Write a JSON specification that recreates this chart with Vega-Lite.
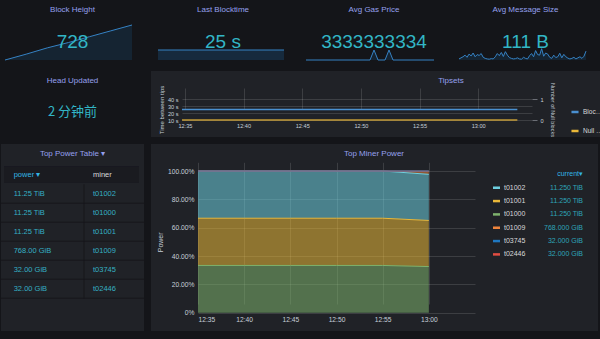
{
  "$schema": "https://vega.github.io/schema/vega-lite/v6.json",
  "background": "#141519",
  "padding": {"left": 0, "top": 0, "right": 0, "bottom": 8},
  "spacing": 7,
  "resolve": {"scale": {"color": "independent"}, "legend": {"color": "independent"}},
  "config": {
    "font": "Liberation Sans",
    "view": {"fill": "#202227", "stroke": null},
    "title": {"fontSize": 8, "fontWeight": "normal", "color": "#95a0ee", "anchor": "middle", "frame": "group", "font": "Liberation Sans"},
    "axis": {"labelColor": "#c7d0d9", "labelFontSize": 6.7, "domain": false, "ticks": false, "gridColor": "#ffffff", "gridOpacity": 0.13, "titleColor": "#c7d0d9", "titleFontWeight": "normal", "titleFontSize": 7, "labelFont": "Liberation Sans", "titleFont": "Liberation Sans"}
  },
  "datasets": {
    "blockHeight": [
      {"t": 0, "h": 656}, {"t": 1, "h": 668}, {"t": 2, "h": 681}, {"t": 3, "h": 692},
      {"t": 4, "h": 704}, {"t": 5, "h": 716}, {"t": 6, "h": 728}
    ],
    "blockTime": [
      {"t": 0, "s": 25}, {"t": 1, "s": 25}, {"t": 2, "s": 25}, {"t": 3, "s": 25},
      {"t": 4, "s": 25}, {"t": 5, "s": 25}, {"t": 6, "s": 25}
    ],
    "gasPrice": [
      {"t": 0, "p": 3333333333}, {"t": 32, "p": 3333333333}, {"t": 34, "p": 3333333343},
      {"t": 36, "p": 3333333333}, {"t": 39.5, "p": 3333333333}, {"t": 41.5, "p": 3333333343},
      {"t": 43.5, "p": 3333333333}, {"t": 64, "p": 3333333333}
    ],
    "msgSize": [
      {"t": 0, "b": 104}, {"t": 1, "b": 108}, {"t": 2, "b": 112}, {"t": 3, "b": 118}, {"t": 4, "b": 110},
      {"t": 5, "b": 122}, {"t": 6, "b": 115}, {"t": 7, "b": 126}, {"t": 8, "b": 112}, {"t": 9, "b": 120},
      {"t": 10, "b": 117}, {"t": 11, "b": 124}, {"t": 12, "b": 110}, {"t": 13, "b": 106}, {"t": 14, "b": 104},
      {"t": 15, "b": 103}, {"t": 16, "b": 105}, {"t": 17, "b": 104}, {"t": 18, "b": 112}, {"t": 19, "b": 124},
      {"t": 20, "b": 116}, {"t": 21, "b": 128}, {"t": 22, "b": 113}, {"t": 23, "b": 131}, {"t": 24, "b": 118},
      {"t": 25, "b": 109}, {"t": 26, "b": 106}, {"t": 27, "b": 104}, {"t": 28, "b": 105}, {"t": 29, "b": 108},
      {"t": 30, "b": 104}, {"t": 31, "b": 103}, {"t": 32, "b": 110}, {"t": 33, "b": 106}, {"t": 34, "b": 104},
      {"t": 35, "b": 116}, {"t": 36, "b": 124}, {"t": 37, "b": 112}, {"t": 38, "b": 135}, {"t": 39, "b": 120},
      {"t": 40, "b": 118}, {"t": 41, "b": 142}, {"t": 42, "b": 114}, {"t": 43, "b": 126}, {"t": 44, "b": 122},
      {"t": 45, "b": 110}, {"t": 46, "b": 106}, {"t": 47, "b": 118}, {"t": 48, "b": 109}, {"t": 49, "b": 112},
      {"t": 50, "b": 125}, {"t": 51, "b": 108}, {"t": 52, "b": 121}, {"t": 53, "b": 112}, {"t": 54, "b": 107},
      {"t": 55, "b": 104}, {"t": 56, "b": 106}, {"t": 57, "b": 110}, {"t": 58, "b": 104}, {"t": 59, "b": 108},
      {"t": 60, "b": 112}, {"t": 61, "b": 106}, {"t": 62, "b": 114}, {"t": 63, "b": 133}
    ],
    "tipsets": [
      {"time": "2020-06-01T12:34:45", "series": "Block Time", "value": 25},
      {"time": "2020-06-01T12:40:00", "series": "Block Time", "value": 25},
      {"time": "2020-06-01T12:45:00", "series": "Block Time", "value": 25},
      {"time": "2020-06-01T12:50:00", "series": "Block Time", "value": 25},
      {"time": "2020-06-01T12:55:00", "series": "Block Time", "value": 25},
      {"time": "2020-06-01T13:00:00", "series": "Block Time", "value": 25},
      {"time": "2020-06-01T13:03:20", "series": "Block Time", "value": 25},
      {"time": "2020-06-01T12:34:45", "series": "Null Blocks", "value": 0},
      {"time": "2020-06-01T12:40:00", "series": "Null Blocks", "value": 0},
      {"time": "2020-06-01T12:45:00", "series": "Null Blocks", "value": 0},
      {"time": "2020-06-01T12:50:00", "series": "Null Blocks", "value": 0},
      {"time": "2020-06-01T12:55:00", "series": "Null Blocks", "value": 0},
      {"time": "2020-06-01T13:00:00", "series": "Null Blocks", "value": 0},
      {"time": "2020-06-01T13:03:20", "series": "Null Blocks", "value": 0}
    ],
    "minerPower": [
      {"time": "2020-06-01T12:35:00", "miner": "t01000", "power": 11.25},
      {"time": "2020-06-01T12:40:00", "miner": "t01000", "power": 11.25},
      {"time": "2020-06-01T12:45:00", "miner": "t01000", "power": 11.25},
      {"time": "2020-06-01T12:50:00", "miner": "t01000", "power": 11.25},
      {"time": "2020-06-01T12:55:00", "miner": "t01000", "power": 11.25},
      {"time": "2020-06-01T13:00:00", "miner": "t01000", "power": 11.25},
      {"time": "2020-06-01T12:35:00", "miner": "t01001", "power": 11.25},
      {"time": "2020-06-01T12:40:00", "miner": "t01001", "power": 11.25},
      {"time": "2020-06-01T12:45:00", "miner": "t01001", "power": 11.25},
      {"time": "2020-06-01T12:50:00", "miner": "t01001", "power": 11.25},
      {"time": "2020-06-01T12:55:00", "miner": "t01001", "power": 11.25},
      {"time": "2020-06-01T13:00:00", "miner": "t01001", "power": 11.25},
      {"time": "2020-06-01T12:35:00", "miner": "t01002", "power": 11.25},
      {"time": "2020-06-01T12:40:00", "miner": "t01002", "power": 11.25},
      {"time": "2020-06-01T12:45:00", "miner": "t01002", "power": 11.25},
      {"time": "2020-06-01T12:50:00", "miner": "t01002", "power": 11.25},
      {"time": "2020-06-01T12:55:00", "miner": "t01002", "power": 11.25},
      {"time": "2020-06-01T13:00:00", "miner": "t01002", "power": 11.25},
      {"time": "2020-06-01T12:35:00", "miner": "t01009", "power": 0},
      {"time": "2020-06-01T12:40:00", "miner": "t01009", "power": 0},
      {"time": "2020-06-01T12:45:00", "miner": "t01009", "power": 0},
      {"time": "2020-06-01T12:50:00", "miner": "t01009", "power": 0},
      {"time": "2020-06-01T12:55:00", "miner": "t01009", "power": 0},
      {"time": "2020-06-01T13:00:00", "miner": "t01009", "power": 0.75},
      {"time": "2020-06-01T12:35:00", "miner": "t02446", "power": 0},
      {"time": "2020-06-01T12:40:00", "miner": "t02446", "power": 0},
      {"time": "2020-06-01T12:45:00", "miner": "t02446", "power": 0},
      {"time": "2020-06-01T12:50:00", "miner": "t02446", "power": 0},
      {"time": "2020-06-01T12:55:00", "miner": "t02446", "power": 0},
      {"time": "2020-06-01T13:00:00", "miner": "t02446", "power": 0.03125},
      {"time": "2020-06-01T12:35:00", "miner": "t03745", "power": 0},
      {"time": "2020-06-01T12:40:00", "miner": "t03745", "power": 0},
      {"time": "2020-06-01T12:45:00", "miner": "t03745", "power": 0},
      {"time": "2020-06-01T12:50:00", "miner": "t03745", "power": 0},
      {"time": "2020-06-01T12:55:00", "miner": "t03745", "power": 0},
      {"time": "2020-06-01T13:00:00", "miner": "t03745", "power": 0.03125}
    ],
    "powerTable": [
      {"rank": 1, "power": "11.25 TiB", "miner": "t01002"},
      {"rank": 2, "power": "11.25 TiB", "miner": "t01000"},
      {"rank": 3, "power": "11.25 TiB", "miner": "t01001"},
      {"rank": 4, "power": "768.00 GiB", "miner": "t01009"},
      {"rank": 5, "power": "32.00 GiB", "miner": "t03745"},
      {"rank": 6, "power": "32.00 GiB", "miner": "t02446"}
    ],
    "legendRows": [
      {"rank": 1, "miner": "t01002", "current": "11.250 TiB"},
      {"rank": 2, "miner": "t01001", "current": "11.250 TiB"},
      {"rank": 3, "miner": "t01000", "current": "11.250 TiB"},
      {"rank": 4, "miner": "t01009", "current": "768.000 GiB"},
      {"rank": 5, "miner": "t03745", "current": "32.000 GiB"},
      {"rank": 6, "miner": "t02446", "current": "32.000 GiB"}
    ]
  },
  "vconcat": [
    {
      "spacing": 7,
      "bounds": "flush",
      "resolve": {"scale": {"color": "independent"}, "legend": {"color": "independent"}},
      "hconcat": [
        {
          "width": 143, "height": 64,
          "title": {"text": "Block Height", "offset": -13.5},
          "layer": [
            {
              "data": {"name": "blockHeight"},
              "mark": {"type": "area", "color": "#1f76bd", "fillOpacity": 0.16, "line": {"color": "#3582c4", "strokeWidth": 1}},
              "encoding": {
                "x": {"field": "t", "type": "quantitative", "scale": {"domain": [0, 6], "range": [4, 131], "nice": false, "zero": false}, "axis": null},
                "y": {"field": "h", "type": "quantitative", "scale": {"domain": [656, 728], "range": [60, 25], "nice": false, "zero": false}, "axis": null},
                "y2": {"datum": 656}
              }
            },
            {
              "data": {"values": [{"v": "728"}]},
              "mark": {"type": "text", "fontSize": 19, "color": "#32b6c6", "dy": 10, "baseline": "middle"},
              "encoding": {"text": {"field": "v"}}
            }
          ]
        },
        {
          "width": 144, "height": 64,
          "title": {"text": "Last Blocktime", "offset": -13.5},
          "layer": [
            {
              "data": {"name": "blockTime"},
              "mark": {"type": "area", "color": "#1f76bd", "fillOpacity": 0.22, "line": {"color": "#3582c4", "strokeWidth": 1}},
              "encoding": {
                "x": {"field": "t", "type": "quantitative", "scale": {"domain": [0, 6], "range": [7, 133], "nice": false, "zero": false}, "axis": null},
                "y": {"field": "s", "type": "quantitative", "scale": {"domain": [0, 25], "range": [60, 50], "nice": false, "zero": false}, "axis": null},
                "y2": {"datum": 0}
              }
            },
            {
              "data": {"values": [{"v": "25 s"}]},
              "mark": {"type": "text", "fontSize": 19, "color": "#32b6c6", "dy": 10, "baseline": "middle"},
              "encoding": {"text": {"field": "v"}}
            }
          ]
        },
        {
          "width": 144, "height": 64,
          "title": {"text": "Avg Gas Price", "offset": -13.5},
          "layer": [
            {
              "data": {"name": "gasPrice"},
              "mark": {"type": "area", "color": "#1f76bd", "fillOpacity": 0.16, "line": {"color": "#3582c4", "strokeWidth": 1}},
              "encoding": {
                "x": {"field": "t", "type": "quantitative", "scale": {"domain": [0, 64], "range": [4, 132], "nice": false, "zero": false}, "axis": null},
                "y": {"field": "p", "type": "quantitative", "scale": {"domain": [3333333333, 3333333368], "range": [60, 25], "nice": false, "zero": false}, "axis": null},
                "y2": {"datum": 3333333333}
              }
            },
            {
              "data": {"values": [{"v": "3333333334"}]},
              "mark": {"type": "text", "fontSize": 19, "color": "#32b6c6", "dy": 10, "baseline": "middle"},
              "encoding": {"text": {"field": "v"}}
            }
          ]
        },
        {
          "width": 145, "height": 64,
          "title": {"text": "Avg Message Size", "offset": -13.5},
          "layer": [
            {
              "data": {"name": "msgSize"},
              "mark": {"type": "area", "color": "#1f76bd", "fillOpacity": 0.16, "line": {"color": "#3582c4", "strokeWidth": 1}},
              "encoding": {
                "x": {"field": "t", "type": "quantitative", "scale": {"domain": [0, 63], "range": [6, 133], "nice": false, "zero": false}, "axis": null},
                "y": {"field": "b", "type": "quantitative", "scale": {"domain": [100, 230], "range": [60, 25], "nice": false, "zero": false}, "axis": null},
                "y2": {"datum": 100}
              }
            },
            {
              "data": {"values": [{"v": "111 B"}]},
              "mark": {"type": "text", "fontSize": 19, "color": "#32b6c6", "dy": 10, "baseline": "middle"},
              "encoding": {"text": {"field": "v"}}
            }
          ]
        }
      ]
    },
    {
      "spacing": 7,
      "bounds": "flush",
      "resolve": {"scale": {"color": "independent"}, "legend": {"color": "independent"}},
      "hconcat": [
        {
          "width": 143, "height": 66,
          "title": {"text": "Head Updated", "offset": -14.4},
          "data": {"values": [{"v": "2 分钟前"}]},
          "mark": {"type": "text", "font": "Noto Sans CJK SC", "fontSize": 13, "color": "#32b6c6", "dy": 8, "baseline": "middle"},
          "encoding": {"text": {"field": "v"}}
        },
        {
          "width": 450, "height": 66,
          "title": {"text": "Tipsets", "offset": -14.4, "dx": 75},
          "data": {"name": "tipsets"},
          "encoding": {
            "x": {
              "field": "time", "type": "temporal",
              "scale": {"domain": [{"year": 2020, "month": 6, "date": 1, "hours": 12, "minutes": 34, "seconds": 45}, {"year": 2020, "month": 6, "date": 1, "hours": 13, "minutes": 4, "seconds": 35}], "range": [31, 381]},
              "axis": {
                "values": [
                  {"year": 2020, "month": 6, "date": 1, "hours": 12, "minutes": 35},
                  {"year": 2020, "month": 6, "date": 1, "hours": 12, "minutes": 40},
                  {"year": 2020, "month": 6, "date": 1, "hours": 12, "minutes": 45},
                  {"year": 2020, "month": 6, "date": 1, "hours": 12, "minutes": 50},
                  {"year": 2020, "month": 6, "date": 1, "hours": 12, "minutes": 55},
                  {"year": 2020, "month": 6, "date": 1, "hours": 13, "minutes": 0}
                ],
                "format": "%H:%M", "title": null, "offset": -17, "labelPadding": 3, "labelFontSize": 5.6, "grid": true
              }
            },
            "color": {
              "field": "series", "type": "nominal",
              "scale": {"domain": ["Block Time", "Null Blocks"], "range": ["#4a90d0", "#eab839"]},
              "legend": {"orient": "none", "legendX": 419, "legendY": 36, "title": null, "symbolType": "stroke", "symbolStrokeWidth": 2.5, "symbolSize": 50, "symbolOpacity": 1, "labelFontSize": 6.5, "labelColor": "#d8d9da", "rowPadding": 9, "labelOffset": 3, "labelLimit": 20}
            }
          },
          "layer": [
            {
              "transform": [{"filter": "datum.series === 'Block Time'"}],
              "mark": {"type": "line", "strokeWidth": 1.5},
              "encoding": {
                "y": {
                  "field": "value", "type": "quantitative",
                  "scale": {"domain": [10, 40], "range": [49, 28], "nice": false, "zero": false},
                  "axis": {"orient": "left", "values": [10, 20, 30, 40], "labelExpr": "datum.value + ' s'", "title": "Time between tips", "offset": -31, "labelPadding": 4, "labelFontSize": 5.6, "titleFontSize": 6, "titlePadding": 3, "grid": true}
                }
              }
            },
            {
              "transform": [{"filter": "datum.series === 'Null Blocks'"}],
              "mark": {"type": "line", "strokeWidth": 2, "opacity": 0.6},
              "encoding": {
                "y": {
                  "field": "value", "type": "quantitative",
                  "scale": {"domain": [0, 1], "range": [49, 28], "nice": false, "zero": false},
                  "axis": {"orient": "right", "values": [0, 1], "format": "d", "title": "Number of Null blocks", "offset": -69, "ticks": true, "tickSize": 5, "tickColor": "#6b6e75", "labelPadding": 3, "labelFontSize": 5.6, "titleFontSize": 5.5, "titlePadding": 6, "grid": false}
                }
              }
            }
          ],
          "resolve": {"scale": {"y": "independent"}}
        }
      ]
    },
    {
      "spacing": 7,
      "bounds": "flush",
      "resolve": {"scale": {"color": "independent"}, "legend": {"color": "independent"}},
      "hconcat": [
        {
          "width": 143, "height": 187,
          "title": {"text": "Top Power Table ▾", "offset": -14.4},
          "data": {"name": "powerTable"},
          "layer": [
            {
              "mark": {"type": "rect", "color": "#1a1b20", "xOffset": -9.7, "x2Offset": 46, "yOffset": -8, "y2Offset": 8},
              "encoding": {
                "x": {"datum": "power", "type": "nominal", "scale": {"type": "point", "domain": ["power", "miner"], "range": [12.7, 92], "padding": 0}, "axis": null},
                "x2": {"datum": "miner"},
                "y": {"datum": 0, "type": "ordinal", "scale": {"type": "point", "domain": [0, 1, 2, 3, 4, 5, 6], "range": [30.7, 144.7], "padding": 0}, "axis": null},
                "y2": {"datum": 0}
              }
            },
            {
              "mark": {"type": "rule", "strokeWidth": 1, "color": "#16171b", "yOffset": 9.5},
              "encoding": {"y": {"field": "rank", "type": "ordinal", "scale": {"type": "point", "domain": [0, 1, 2, 3, 4, 5, 6], "range": [30.7, 144.7], "padding": 0}, "axis": null}}
            },
            {
              "mark": {"type": "tick", "orient": "vertical", "size": 19, "thickness": 1, "color": "#16171b", "xOffset": -9, "opacity": 1},
              "encoding": {
                "x": {"datum": "miner", "type": "nominal", "scale": {"type": "point", "domain": ["power", "miner"], "range": [12.7, 92], "padding": 0}, "axis": null},
                "y": {"field": "rank", "type": "ordinal", "scale": {"type": "point", "domain": [0, 1, 2, 3, 4, 5, 6], "range": [30.7, 144.7], "padding": 0}, "axis": null}
              }
            },
            {
              "data": {"values": [{"label": "power ▾"}]},
              "mark": {"type": "text", "align": "left", "baseline": "middle", "fontSize": 7.5, "color": "#33b5e5"},
              "encoding": {
                "x": {"datum": "power", "type": "nominal", "scale": {"type": "point", "domain": ["power", "miner"], "range": [12.7, 92], "padding": 0}, "axis": null},
                "y": {"datum": 0, "type": "ordinal", "scale": {"type": "point", "domain": [0, 1, 2, 3, 4, 5, 6], "range": [30.7, 144.7], "padding": 0}, "axis": null},
                "text": {"field": "label"}
              }
            },
            {
              "data": {"values": [{"label": "miner"}]},
              "mark": {"type": "text", "align": "left", "baseline": "middle", "fontSize": 7.5, "fill": "#d8d9da", "opacity": 1},
              "encoding": {
                "x": {"datum": "miner", "type": "nominal", "scale": {"type": "point", "domain": ["power", "miner"], "range": [12.7, 92], "padding": 0}, "axis": null},
                "y": {"datum": 0, "type": "ordinal", "scale": {"type": "point", "domain": [0, 1, 2, 3, 4, 5, 6], "range": [30.7, 144.7], "padding": 0}, "axis": null},
                "text": {"field": "label"}
              }
            },
            {
              "transform": [{"fold": ["power", "miner"], "as": ["col", "cell"]}],
              "mark": {"type": "text", "align": "left", "baseline": "middle", "fontSize": 7.5, "color": "#35b0c4"},
              "encoding": {
                "x": {"field": "col", "type": "nominal", "scale": {"type": "point", "domain": ["power", "miner"], "range": [12.7, 92], "padding": 0}, "axis": null},
                "y": {"field": "rank", "type": "ordinal", "scale": {"type": "point", "domain": [0, 1, 2, 3, 4, 5, 6], "range": [30.7, 144.7], "padding": 0}, "axis": null},
                "text": {"field": "cell"}
              }
            }
          ]
        },
        {
          "spacing": 0,
          "bounds": "flush",
          "resolve": {"scale": {"color": "independent"}, "legend": {"color": "independent"}},
          "hconcat": [
            {
              "width": 330, "height": 187,
              "title": {"text": "Top Miner Power", "offset": -13.5, "dx": 58},
              "data": {"name": "minerPower"},
              "mark": {"type": "area", "fillOpacity": 0.55, "line": {"strokeWidth": 1}},
              "encoding": {
                "x": {
                  "field": "time", "type": "temporal",
                  "scale": {"domain": [{"year": 2020, "month": 6, "date": 1, "hours": 12, "minutes": 35}, {"year": 2020, "month": 6, "date": 1, "hours": 13, "minutes": 5}], "range": [47, 324]},
                  "axis": {
                    "values": [
                      {"year": 2020, "month": 6, "date": 1, "hours": 12, "minutes": 35},
                      {"year": 2020, "month": 6, "date": 1, "hours": 12, "minutes": 40},
                      {"year": 2020, "month": 6, "date": 1, "hours": 12, "minutes": 45},
                      {"year": 2020, "month": 6, "date": 1, "hours": 12, "minutes": 50},
                      {"year": 2020, "month": 6, "date": 1, "hours": 12, "minutes": 55},
                      {"year": 2020, "month": 6, "date": 1, "hours": 13, "minutes": 0}
                    ],
                    "format": "%H:%M", "title": null, "offset": -18.3, "labelPadding": 4, "grid": true
                  }
                },
                "y": {
                  "field": "power", "type": "quantitative", "stack": "normalize",
                  "scale": {"domain": [0, 1], "range": [168.7, 27], "nice": false},
                  "axis": {"values": [0, 0.2, 0.4, 0.6, 0.8, 1], "labelExpr": "datum.value === 0 ? '0%' : format(datum.value, '.2%')", "title": "Power", "offset": -47, "labelPadding": 4, "titlePadding": 4, "grid": true}
                },
                "color": {
                  "field": "miner", "type": "nominal",
                  "scale": {"domain": ["t01002", "t01001", "t01000", "t01009", "t03745", "t02446"], "range": ["#6ed0e0", "#eab839", "#7eb26d", "#ef843c", "#1f78c1", "#e24d42"]},
                  "legend": null
                },
                "order": {"sort": "ascending"}
              }
            },
            {
              "width": 117, "height": 187,
              "layer": [
                {
                  "data": {"values": [{"h": "current▾"}]},
                  "mark": {"type": "text", "align": "right", "baseline": "middle", "fontSize": 7, "color": "#33b5e5"},
                  "encoding": {
                    "x": {"datum": "value", "type": "nominal", "scale": {"type": "point", "domain": ["swatch", "value"], "range": [15.5, 102], "padding": 0}, "axis": null},
                    "y": {"datum": 0, "type": "ordinal", "scale": {"type": "point", "domain": [0, 1, 2, 3, 4, 5, 6], "range": [30.4, 110.4], "padding": 0}, "axis": null},
                    "text": {"field": "h"}
                  }
                },
                {
                  "data": {"name": "legendRows"},
                  "mark": {"type": "tick", "orient": "horizontal", "size": 7, "thickness": 2.5, "opacity": 1},
                  "encoding": {
                    "x": {"datum": "swatch", "type": "nominal", "scale": {"type": "point", "domain": ["swatch", "value"], "range": [15.5, 102], "padding": 0}, "axis": null},
                    "y": {"field": "rank", "type": "ordinal", "scale": {"type": "point", "domain": [0, 1, 2, 3, 4, 5, 6], "range": [30.4, 110.4], "padding": 0}, "axis": null},
                    "color": {"field": "miner", "type": "nominal", "scale": {"domain": ["t01002", "t01001", "t01000", "t01009", "t03745", "t02446"], "range": ["#6ed0e0", "#eab839", "#7eb26d", "#ef843c", "#1f78c1", "#e24d42"]}, "legend": null}
                  }
                },
                {
                  "data": {"name": "legendRows"},
                  "mark": {"type": "text", "align": "left", "baseline": "middle", "fontSize": 7, "color": "#d8d9da", "dx": 7.5},
                  "encoding": {
                    "x": {"datum": "swatch", "type": "nominal", "scale": {"type": "point", "domain": ["swatch", "value"], "range": [15.5, 102], "padding": 0}, "axis": null},
                    "y": {"field": "rank", "type": "ordinal", "scale": {"type": "point", "domain": [0, 1, 2, 3, 4, 5, 6], "range": [30.4, 110.4], "padding": 0}, "axis": null},
                    "text": {"field": "miner"}
                  }
                },
                {
                  "data": {"name": "legendRows"},
                  "mark": {"type": "text", "align": "right", "baseline": "middle", "fontSize": 7, "color": "#2ea5b8"},
                  "encoding": {
                    "x": {"datum": "value", "type": "nominal", "scale": {"type": "point", "domain": ["swatch", "value"], "range": [15.5, 102], "padding": 0}, "axis": null},
                    "y": {"field": "rank", "type": "ordinal", "scale": {"type": "point", "domain": [0, 1, 2, 3, 4, 5, 6], "range": [30.4, 110.4], "padding": 0}, "axis": null},
                    "text": {"field": "current"}
                  }
                }
              ]
            }
          ]
        }
      ]
    }
  ]
}
